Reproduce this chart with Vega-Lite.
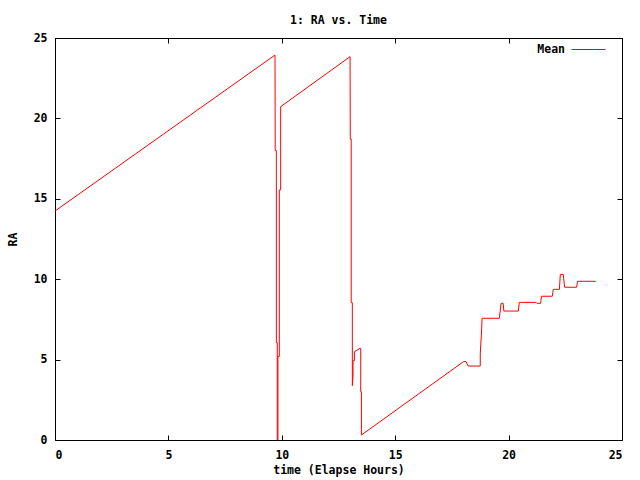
{
  "$schema": "https://vega.github.io/schema/vega-lite/v6.json",
  "width": 567,
  "height": 402,
  "autosize": {"type": "none"},
  "padding": {"left": 55, "top": 38, "right": 18, "bottom": 40},
  "background": "white",
  "title": {"text": "1: RA vs. Time", "font": "DejaVu Sans Mono", "fontSize": 11.5, "fontWeight": "bold", "color": "black", "offset": 6, "anchor": "middle"},
  "config": {
    "view": {"stroke": "black", "strokeWidth": 1},
    "axis": {
      "domain": false, "ticks": true, "tickColor": "black", "tickWidth": 1, "tickOpacity": 1, "tickSize": 5, "offset": -5, "grid": false, "zindex": 1,
      "labelFont": "DejaVu Sans Mono", "labelFontSize": 11.5, "labelFontWeight": "bold", "labelColor": "black",
      "titleFont": "DejaVu Sans Mono", "titleFontSize": 11.5, "titleFontWeight": "bold", "titleColor": "black",
      "labelPadding": 8
    }
  },
  "data": {"values": [
    {"i": 1, "t": 0, "ra": 14.24},
    {"i": 2, "t": 9.70, "ra": 23.94},
    {"i": 3, "t": 9.71, "ra": 18.0},
    {"i": 4, "t": 9.76, "ra": 18.0},
    {"i": 5, "t": 9.76, "ra": 6.07},
    {"i": 6, "t": 9.80, "ra": 6.07},
    {"i": 7, "t": 9.80, "ra": 0},
    {"i": 8, "t": 9.83, "ra": 0},
    {"i": 9, "t": 9.83, "ra": 5.2},
    {"i": 10, "t": 9.89, "ra": 5.2},
    {"i": 11, "t": 9.89, "ra": 15.55},
    {"i": 12, "t": 9.95, "ra": 15.55},
    {"i": 13, "t": 9.95, "ra": 20.73},
    {"i": 14, "t": 13.01, "ra": 23.84},
    {"i": 15, "t": 13.02, "ra": 18.72},
    {"i": 16, "t": 13.06, "ra": 18.72},
    {"i": 17, "t": 13.06, "ra": 8.54},
    {"i": 18, "t": 13.11, "ra": 8.54},
    {"i": 19, "t": 13.11, "ra": 3.38},
    {"i": 20, "t": 13.14, "ra": 3.94},
    {"i": 21, "t": 13.14, "ra": 4.93},
    {"i": 22, "t": 13.20, "ra": 4.93},
    {"i": 23, "t": 13.20, "ra": 5.49},
    {"i": 24, "t": 13.45, "ra": 5.70},
    {"i": 25, "t": 13.48, "ra": 5.70},
    {"i": 26, "t": 13.48, "ra": 3.0},
    {"i": 27, "t": 13.51, "ra": 3.0},
    {"i": 28, "t": 13.51, "ra": 0.31},
    {"i": 29, "t": 18.02, "ra": 4.88},
    {"i": 30, "t": 18.12, "ra": 4.88},
    {"i": 31, "t": 18.22, "ra": 4.60},
    {"i": 32, "t": 18.75, "ra": 4.60},
    {"i": 33, "t": 18.75, "ra": 5.35},
    {"i": 34, "t": 18.81, "ra": 6.84},
    {"i": 35, "t": 18.83, "ra": 7.57},
    {"i": 36, "t": 19.59, "ra": 7.57},
    {"i": 37, "t": 19.62, "ra": 7.9},
    {"i": 38, "t": 19.67, "ra": 8.50},
    {"i": 39, "t": 19.76, "ra": 8.50},
    {"i": 40, "t": 19.79, "ra": 8.02},
    {"i": 41, "t": 20.43, "ra": 8.02},
    {"i": 42, "t": 20.47, "ra": 8.56},
    {"i": 43, "t": 21.21, "ra": 8.56},
    {"i": 44, "t": 21.25, "ra": 8.50},
    {"i": 45, "t": 21.41, "ra": 8.50},
    {"i": 46, "t": 21.45, "ra": 8.94},
    {"i": 47, "t": 21.93, "ra": 8.94},
    {"i": 48, "t": 21.97, "ra": 9.37},
    {"i": 49, "t": 22.24, "ra": 9.37},
    {"i": 50, "t": 22.28, "ra": 10.30},
    {"i": 51, "t": 22.41, "ra": 10.30},
    {"i": 52, "t": 22.47, "ra": 9.50},
    {"i": 53, "t": 23.0, "ra": 9.50},
    {"i": 54, "t": 23.04, "ra": 9.87},
    {"i": 55, "t": 23.84, "ra": 9.87}
  ]},
  "layer": [
    {
      "mark": {"type": "line", "strokeWidth": 1},
      "encoding": {
        "x": {"field": "t", "type": "quantitative", "scale": {"domain": [0, 25], "nice": false}, "axis": {"title": "time (Elapse Hours)", "values": [0, 5, 10, 15, 20, 25], "labelPadding": 9, "titlePadding": 4}},
        "y": {"field": "ra", "type": "quantitative", "scale": {"domain": [0, 25], "nice": false}, "axis": {"title": "RA", "values": [0, 5, 10, 15, 20, 25], "titlePadding": 15}},
        "order": {"field": "i", "type": "quantitative"},
        "color": {
          "datum": "Mean",
          "scale": {"range": ["#ff0000"]},
          "legend": {
            "title": null, "orient": "top-right", "offset": 5, "padding": 0,
            "symbolType": "M-3,0H3M4.6,0", "symbolSize": 128, "symbolStrokeWidth": 1,
            "symbolStrokeColor": "#ff0000", "symbolFillColor": "transparent",
            "labelFont": "DejaVu Sans Mono", "labelFontSize": 11.5, "labelFontWeight": "bold", "labelColor": "black",
            "labelAlign": "right", "labelOffset": -30
          }
        }
      }
    },
    {
      "mark": {"type": "line", "opacity": 0},
      "encoding": {
        "x": {"field": "t", "type": "quantitative", "axis": {"orient": "top", "labels": false, "title": null, "values": [0, 5, 10, 15, 20, 25]}},
        "y": {"field": "ra", "type": "quantitative", "axis": {"orient": "right", "labels": false, "title": null, "values": [0, 5, 10, 15, 20, 25]}},
        "order": {"field": "i", "type": "quantitative"}
      }
    }
  ],
  "resolve": {"axis": {"x": "independent", "y": "independent"}}
}
